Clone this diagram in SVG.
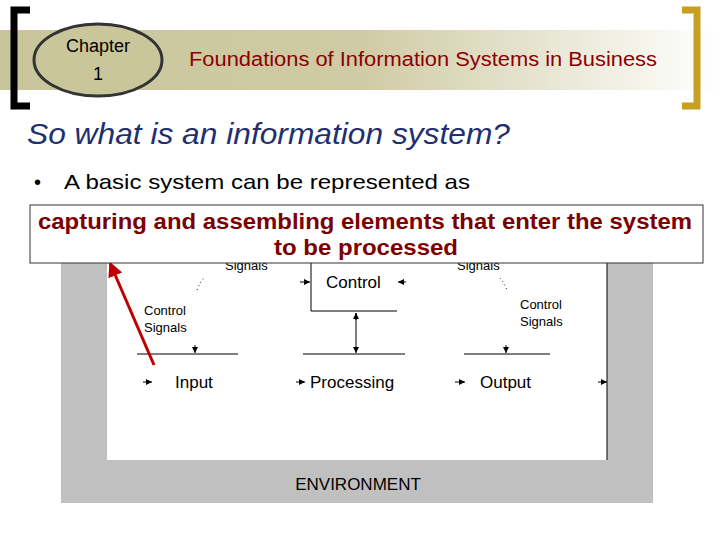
<svg xmlns="http://www.w3.org/2000/svg" width="720" height="540" viewBox="0 0 720 540">
<defs>
<linearGradient id="band" x1="0" x2="1" y1="0" y2="0">
<stop offset="0" stop-color="#c9c59a"/><stop offset="0.5" stop-color="#cfcba4"/><stop offset="1" stop-color="#ffffff"/>
</linearGradient>
<marker id="tri" viewBox="0 0 10 10" refX="10" refY="5" markerWidth="6" markerHeight="6" orient="auto"><path d="M0,0L10,5L0,10z" fill="#000"/></marker>
<marker id="red" viewBox="0 0 10 10" refX="9" refY="5" markerWidth="5" markerHeight="5" orient="auto"><path d="M0,0L10,5L0,10z" fill="#c00000"/></marker>
</defs>
<style>
.t{font-family:"Liberation Sans",Arial,sans-serif}
.s{font-size:13px;fill:#000}
.m{font-size:17px;fill:#000}
</style>
<rect width="720" height="540" fill="#fff"/>
<rect x="0" y="30" width="720" height="60" fill="url(#band)"/>
<path d="M30,10H14V106H30" fill="none" stroke="#000" stroke-width="7"/>
<path d="M682,10H697V106H682" fill="none" stroke="#c8a020" stroke-width="7"/>
<g id="chapter"><ellipse cx="98" cy="60" rx="64" ry="36" fill="#cac69c" stroke="#333" stroke-width="3"/>
<text class="t" x="98" y="52" text-anchor="middle" font-size="18" fill="#000">Chapter</text>
<text class="t" x="98" y="80" text-anchor="middle" font-size="18" fill="#000">1</text></g>
<text class="t" x="189" y="66" font-size="20" fill="#8b0000" textLength="468" lengthAdjust="spacingAndGlyphs">Foundations of Information Systems in Business</text>
<text class="t" x="27" y="144" font-size="29" font-style="italic" fill="#1f2f6f" textLength="483" lengthAdjust="spacingAndGlyphs">So what is an information system?</text>
<text class="t" x="34" y="189" font-size="20" fill="#000">•</text>
<text class="t" x="64" y="189" font-size="21" fill="#000" textLength="406" lengthAdjust="spacingAndGlyphs">A basic system can be represented as</text>
<g id="environment">
<rect x="61" y="205" width="592" height="298" fill="#c0c0c0"/>
<rect x="107" y="205" width="500" height="255" fill="#fff"/>
<line x1="607" y1="205" x2="607" y2="460" stroke="#000"/>
<text class="t m" x="358" y="490" text-anchor="middle">ENVIRONMENT</text>
</g>
<g id="connectors" stroke="#000" fill="none">
<line x1="311" y1="250" x2="311" y2="311"/>
<line x1="311" y1="311" x2="397" y2="311"/>
<line x1="137" y1="354" x2="238" y2="354"/>
<line x1="303" y1="354" x2="405" y2="354"/>
<line x1="464" y1="354" x2="550" y2="354"/>
<line x1="195" y1="345" x2="195" y2="353" marker-end="url(#tri)"/>
<line x1="506" y1="345" x2="506" y2="353" marker-end="url(#tri)"/>
<line x1="356" y1="320" x2="356" y2="313" marker-end="url(#tri)"/>
<line x1="356" y1="313" x2="356" y2="353" marker-end="url(#tri)"/>
<line x1="300" y1="282" x2="310" y2="282" marker-end="url(#tri)"/>
<line x1="406" y1="282" x2="398" y2="282" marker-end="url(#tri)"/>
<line x1="143" y1="382" x2="152" y2="382" marker-end="url(#tri)"/>
<line x1="296" y1="382" x2="305" y2="382" marker-end="url(#tri)"/>
<line x1="455" y1="382" x2="465" y2="382" marker-end="url(#tri)"/>
<line x1="598" y1="382" x2="607" y2="382" marker-end="url(#tri)"/>
<path d="M197,290 Q200,282 204,278" stroke-dasharray="1,3"/>
<path d="M500,278 Q504,283 507,290" stroke-dasharray="1,3"/>
<line x1="154" y1="365" x2="110" y2="263" stroke="#c00000" stroke-width="3" marker-end="url(#red)"/>
</g>
<g id="labels" class="t">
<text class="s" x="225" y="270">Signals</text>
<text class="s" x="457" y="270">Signals</text>
<text class="m" x="326" y="288">Control</text>
<text class="s" x="144" y="315">Control</text>
<text class="s" x="144" y="332">Signals</text>
<text class="s" x="520" y="309">Control</text>
<text class="s" x="520" y="326">Signals</text>
<text class="m" x="175" y="388">Input</text>
<text class="m" x="310" y="388">Processing</text>
<text class="m" x="480" y="388">Output</text>
</g>
<g id="callout">
<rect x="30" y="205" width="673" height="58" fill="#fff" stroke="#333"/>
<text class="t" x="38" y="229" font-size="22" font-weight="bold" fill="#7b0000" textLength="654" lengthAdjust="spacingAndGlyphs">capturing and assembling elements that enter the system</text>
<text class="t" x="366" y="255" text-anchor="middle" font-size="22" font-weight="bold" fill="#7b0000" textLength="184" lengthAdjust="spacingAndGlyphs">to be processed</text>
</g>
</svg>
